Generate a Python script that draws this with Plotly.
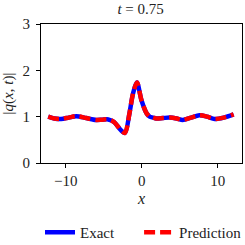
import plotly.graph_objects as go

x_vals = [-12.3, -11.5, -10.6, -9.6, -8.6, -7.3, -6.0, -5.2, -4.4, -3.6, -2.8, -2.2,
          -1.6, -1.14, -0.62, -0.04, 0.62, 1.05, 1.5, 1.9, 2.8, 3.7, 4.6, 5.4, 6.5, 7.6,
          8.6, 9.6, 10.8, 12.1]
q_vals = [1.00, 0.96, 0.95, 0.98, 1.01, 0.97, 0.93, 0.935, 0.94, 0.88, 0.72, 0.65,
          1.08, 1.50, 1.74, 1.36, 1.08, 1.00, 0.98, 0.96, 0.97, 0.98, 0.96, 0.93, 0.98, 1.03,
          1.00, 0.95, 0.98, 1.05]
x_ticks = [-10, 0, 10]
y_ticks = [0, 1, 2, 3]

font = "Liberation Serif, Times New Roman, serif"
fs = 15
fig = go.Figure()
fig.add_trace(go.Scatter(x=x_vals, y=q_vals, mode="lines", name="Exact", legend="legend",
                         line=dict(color="blue", width=4.5, shape="spline", smoothing=0.8)))
fig.add_trace(go.Scatter(x=x_vals, y=q_vals, mode="lines", name="Prediction", legend="legend2",
                         line=dict(color="red", width=4.5, shape="spline", smoothing=0.8,
                                   dash="11px,5px")))

axis_common = dict(showline=True, linecolor="black", linewidth=1.2, mirror=True,
                   ticks="outside", ticklen=4, tickcolor="black", showgrid=False,
                   zeroline=False, tickfont=dict(family=font, size=fs, color="#222"))
fig.update_xaxes(range=[-13.25, 13.2], tickvals=x_ticks,
                 ticktext=["\u221210", "0", "10"],
                 title=dict(text="<i>x</i>", font=dict(family=font, size=fs + 1, color="#222"), standoff=4),
                 **axis_common)
fig.update_yaxes(range=[0, 3], tickvals=y_ticks, ticklabelstandoff=3,
                 title=dict(text="|<i>q</i>(<i>x</i>, <i>t</i>)|", font=dict(family=font, size=fs, color="#222"), standoff=6),
                 **axis_common)
leg_common = dict(orientation="h", xanchor="left", y=-0.5, yanchor="middle",
                  font=dict(family=font, size=fs, color="#222"), itemwidth=30,
                  bgcolor="rgba(0,0,0,0)")
fig.update_layout(
    width=245, height=245,
    margin=dict(l=41, r=3, t=24, b=82, autoexpand=False),
    plot_bgcolor="white", paper_bgcolor="white",
    title=dict(text="<i>t</i> = 0.75", x=0.574, xanchor="center", y=0.965, yanchor="middle",
               font=dict(family=font, size=fs, color="#222")),
    legend=dict(x=-0.005, **leg_common),
    legend2=dict(x=0.488, **leg_common),
    showlegend=True,
)
fig.write_html("out.html", config={"displayModeBar": False},
               post_script="document.body.style.margin='0';")
